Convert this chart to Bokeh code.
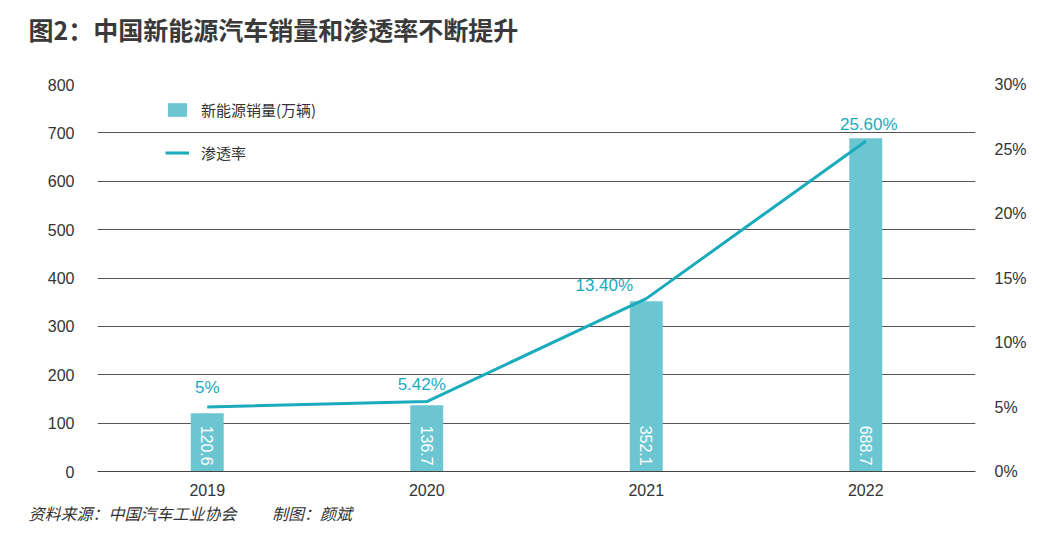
from bokeh.plotting import figure
from bokeh.models import (ColumnDataSource, Range1d, LinearAxis, FixedTicker,
                          PrintfTickFormatter, Title, Legend, LegendItem)
from bokeh.core.properties import value
from bokeh.embed import file_html
from bokeh.resources import INLINE
import math

# ---- data ----
years = ["2019", "2020", "2021", "2022"]
sales = [120.6, 136.7, 352.1, 688.7]          # 万辆
rate = [5.0, 5.42, 13.4, 25.6]                # %
sales_labels = ["120.6", "136.7", "352.1", "688.7"]
rate_labels = ["5%", "5.42%", "13.40%", "25.60%"]
left_ticks = [0, 100, 200, 300, 400, 500, 600, 700, 800]
right_ticks = [0, 5, 10, 15, 20, 25, 30]

# label style offsets (screen px)
rate_dx = [0, -5, -42, 3]
rate_dy = [-10, -8, -4, -7]

BAR = "#6cc6d2"
LINE = "#1aabbd"
TXT = "#333333"
NUM_FONT = "Liberation Sans"
CJK_FONT = "Noto Sans CJK SC"

src = ColumnDataSource(dict(x=years, sales=sales, rate=rate,
                            slab=sales_labels, rlab=rate_labels,
                            dx=rate_dx, dy=rate_dy,
                            ybase=[12] * len(years)))

p = figure(width=1046, height=534, x_range=years, y_range=Range1d(0, 800),
           output_backend="svg", toolbar_location=None,
           min_border_left=97, min_border_right=71,
           min_border_top=84, min_border_bottom=63)
p.x_range.range_padding = 0
p.extra_y_ranges = {"pct": Range1d(0, 30)}
p.outline_line_color = None
p.background_fill_color = "white"
p.border_fill_color = "white"

bars = p.vbar(x="x", top="sales", width=0.15, source=src, color=BAR, line_color=None)
line = p.line(x="x", y="rate", y_range_name="pct", source=src, line_color=LINE, line_width=3)

p.text(x="x", y="ybase", text="slab", source=src, angle=-math.pi / 2,
       text_align="right", text_baseline="middle", text_color="white",
       text_font=value(NUM_FONT), text_font_size="16px")

p.text(x="x", y="rate", text="rlab", source=src, y_range_name="pct",
       x_offset="dx", y_offset="dy",
       text_align="center", text_baseline="bottom", text_color=LINE,
       text_font=value(NUM_FONT), text_font_size="17px")

# axes
p.yaxis.ticker = FixedTicker(ticks=left_ticks)
p.yaxis.axis_line_color = None
p.yaxis.major_tick_line_color = None
p.yaxis.minor_tick_line_color = None
p.yaxis.major_label_standoff = 17
p.yaxis.major_label_text_font = NUM_FONT
p.yaxis.major_label_text_font_size = "16px"
p.yaxis.major_label_text_color = TXT

ra = LinearAxis(y_range_name="pct", ticker=FixedTicker(ticks=right_ticks),
                formatter=PrintfTickFormatter(format="%d%%"))
ra.axis_line_color = None
ra.major_tick_line_color = None
ra.minor_tick_line_color = None
ra.major_label_standoff = 13
ra.major_label_text_font = NUM_FONT
ra.major_label_text_font_size = "16px"
ra.major_label_text_color = TXT
p.add_layout(ra, "right")

p.xaxis.axis_line_color = "#444444"
p.xaxis.major_tick_line_color = None
p.xaxis.minor_tick_line_color = None
p.xaxis.major_label_standoff = 6
p.xaxis.major_label_text_font = NUM_FONT
p.xaxis.major_label_text_font_size = "16px"
p.xaxis.major_label_text_color = TXT

p.xgrid.grid_line_color = None
p.ygrid.grid_line_color = "#555555"
p.ygrid.grid_line_width = 1

# legend
legend = Legend(items=[LegendItem(label="新能源销量(万辆)", renderers=[bars]),
                       LegendItem(label="渗透率", renderers=[line])],
                location=(68, 308), orientation="vertical")
legend.background_fill_alpha = 0
legend.border_line_color = None
legend.padding = 0
legend.margin = 0
legend.glyph_width = 24
legend.glyph_height = 17
legend.label_height = 17
legend.spacing = 22
legend.label_standoff = 12
legend.label_text_font = CJK_FONT
legend.label_text_font_size = "15px"
legend.label_text_color = TXT
p.add_layout(legend, "center")

# title (with a blank spacer between it and the frame) and footer
spacer = Title(text=" ", text_font_size="10px", standoff=25)
p.add_layout(spacer, "above")
t = Title(text="图2：中国新能源汽车销量和渗透率不断提升", align="left", offset=-69,
          text_font=CJK_FONT, text_font_size="25px", text_font_style="bold",
          text_color="#3a3a3a", standoff=0, vertical_align="bottom")
p.add_layout(t, "above")
f = Title(text="资料来源：中国汽车工业协会　　 制图：颜斌", align="left", offset=-69,
          text_font=CJK_FONT, text_font_size="16px", text_font_style="italic",
          text_color=TXT, standoff=0, vertical_align="bottom")
p.add_layout(f, "below")

open("out.html", "w").write(file_html(p, INLINE))
